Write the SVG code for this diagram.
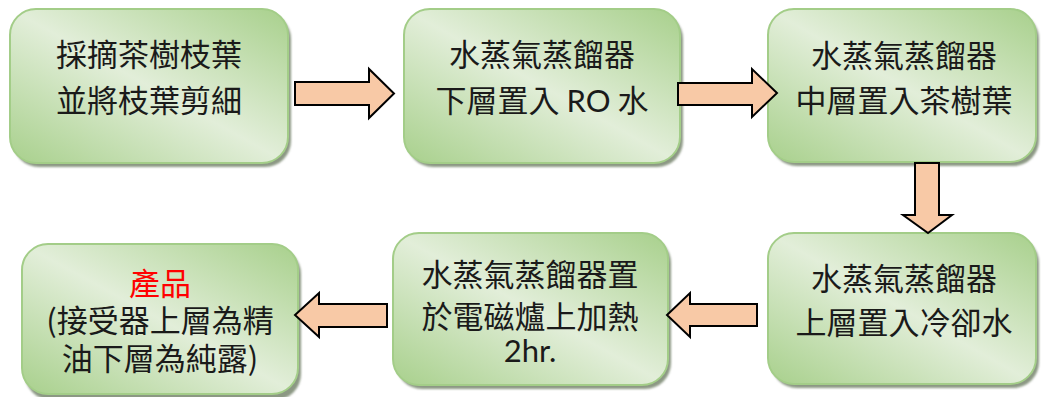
<svg xmlns="http://www.w3.org/2000/svg" width="1043" height="397" viewBox="0 0 1043 397">
<defs>
<linearGradient id="g" x1="0" y1="1" x2="1" y2="0">
<stop offset="0" stop-color="#A8D08C"/>
<stop offset="0.5" stop-color="#E2EED9"/>
<stop offset="1" stop-color="#A8D08C"/>
</linearGradient>
<filter id="sh" x="-5%" y="-5%" width="115%" height="115%">
<feGaussianBlur stdDeviation="1.2"/>
</filter>
</defs>
<style>
.box{fill:url(#g);stroke:#A3CD88;stroke-width:2}
.shadow{fill:#8C9884;filter:url(#sh)}
.t{font-family:"Noto Sans CJK TC","Noto Sans CJK SC",sans-serif;font-size:31px;fill:#1a1a1a;text-anchor:middle}
.lat{font-family:"Lato","Noto Sans CJK TC",sans-serif}
.red{fill:#FF0000}
.arr{fill:#F8C9A6;stroke:#000;stroke-width:2;stroke-linejoin:miter}
</style>
<g id="node1">
<rect class="shadow" x="13" y="13" width="278" height="154" rx="26"/>
<rect class="box" x="10" y="9" width="278" height="154" rx="26"/>
<text class="t" x="149" y="66">採摘茶樹枝葉</text>
<text class="t" x="149" y="112">並將枝葉剪細</text>
</g>
<g id="node2">
<rect class="shadow" x="407" y="13" width="276" height="154" rx="26"/>
<rect class="box" x="404" y="9" width="276" height="154" rx="26"/>
<text class="t" x="542" y="66">水蒸氣蒸餾器</text>
<text class="t" x="542" y="112">下層置入 <tspan class="lat">RO</tspan> 水</text>
</g>
<g id="node3">
<rect class="shadow" x="771" y="13" width="268" height="153" rx="26"/>
<rect class="box" x="768" y="9" width="268" height="153" rx="26"/>
<text class="t" x="904" y="67">水蒸氣蒸餾器</text>
<text class="t" x="904" y="112">中層置入茶樹葉</text>
</g>
<g id="node4">
<rect class="shadow" x="771" y="237" width="268" height="151" rx="26"/>
<rect class="box" x="768" y="233" width="268" height="151" rx="26"/>
<text class="t" x="904" y="290">水蒸氣蒸餾器</text>
<text class="t" x="904" y="334">上層置入冷卻水</text>
</g>
<g id="node5">
<rect class="shadow" x="396" y="237" width="275" height="152" rx="26"/>
<rect class="box" x="393" y="233" width="275" height="152" rx="26"/>
<text class="t" x="530" y="286">水蒸氣蒸餾器置</text>
<text class="t" x="530" y="328">於電磁爐上加熱</text>
<text class="t lat" x="530" y="362">2hr.</text>
</g>
<g id="node6">
<rect class="shadow" x="25" y="248" width="276" height="152" rx="26"/>
<rect class="box" x="22" y="244" width="276" height="150" rx="26"/>
<text class="t red" x="160" y="295">產品</text>
<text class="t" x="160" y="332">(接受器上層為精</text>
<text class="t" x="160" y="370">油下層為純露)</text>
</g>
<g id="connectors">
<polygon class="arr" points="295,82 369,82 369,69 394,93.5 369,118 369,105 295,105"/>
<polygon class="arr" points="678,83 752,83 752,69 777,93 752,117 752,105 678,105"/>
<polygon class="arr" points="915,163 939,163 939,215 952,215 928,233 903,215 915,215"/>
<polygon class="arr" points="757,304 690,304 690,293 667,315 690,337 690,326 757,326"/>
<polygon class="arr" points="387,304 319,304 319,293 295,315 319,337 319,327 387,327"/>
</g>
</svg>
